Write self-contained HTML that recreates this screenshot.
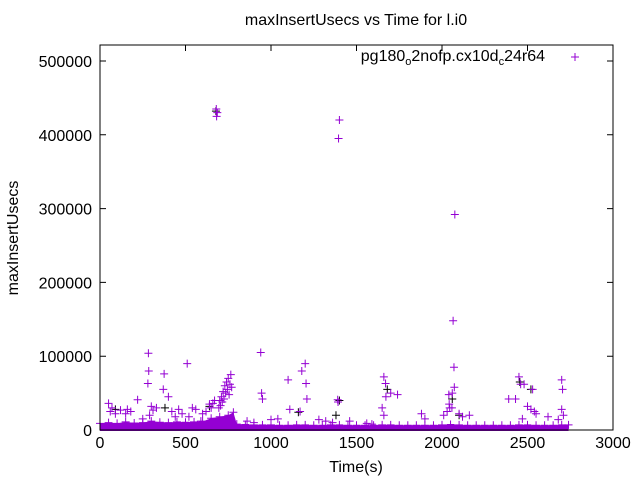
<!DOCTYPE html>
<html><head><meta charset="utf-8"><style>
body{margin:0;background:#fff}
svg{display:block;font-family:"Liberation Sans",sans-serif}
</style></head><body>
<svg id="c" width="640" height="480">
<rect width="640" height="480" fill="#fff"/>
<text x="356" y="25" font-size="16" text-anchor="middle">maxInsertUsecs vs Time for l.i0</text>
<text transform="translate(18,238) rotate(-90)" font-size="16" text-anchor="middle">maxInsertUsecs</text>
<text x="356" y="472" font-size="16" text-anchor="middle">Time(s)</text>
<g id="ticks"></g>
<g id="band"></g>
<g id="pts"></g>
<rect x="100" y="45" width="513" height="385" fill="none" stroke="#000" stroke-width="1"/>
<g>
<text x="545" y="61" font-size="16" text-anchor="end">pg180<tspan font-size="11" dy="4">o</tspan><tspan dy="-4">2nofp.cx10d</tspan><tspan font-size="11" dy="4">c</tspan><tspan dy="-4">24r64</tspan></text>
<path d="M571,57h8M575,53v8" stroke="#9400d3" stroke-width="1"/>
</g>
</svg>
<script>
const xTicks=[0,500,1000,1500,2000,2500,3000];
const yTicks=[0,100000,200000,300000,400000,500000];
const outT=[680,682,686,1400,1395,2075,2065,2070,283,940,510,1200,1180,285,375,1660,2450,2700,1100,280,1205,1670,2460,2480,2072,2705,2530,370,945,1700,1740,2060,2040,400,1672,950,220,1210,1390,1392,2390,2430,2042,2045,50,2058,2500,2540,700,710,720,730,740,745,750,755,760,765,770,735,725,715,705,695,660,670,650,640,620,600,560,540,480,460,440,420,330,300,310,290,180,160,120,90,70,60,1110,1170,1650,1660,1880,1900,2010,2030,2100,2120,2160,2470,2520,2550,2620,2680,2700,2710,1280,1320,1360,1460,1560,1590,590,520,250,150,860,900,1000,1040];
const outV=[435000,425000,430000,420000,395000,292000,148000,85000,104000,105000,90000,90000,80000,80000,76000,72000,72000,68000,68000,63000,63000,63000,62000,62000,58000,55000,55000,55000,50000,50000,48000,50000,48000,45000,45000,42000,41000,42000,41000,38000,42000,42000,35000,30000,36000,30000,32000,25000,40000,45000,52000,60000,65000,55000,70000,48000,62000,75000,58000,50000,42000,38000,33000,30000,36000,40000,30000,35000,25000,22000,28000,30000,22000,28000,18000,25000,30000,32000,27000,20000,25000,28000,27000,22000,30000,25000,28000,25000,30000,20000,22000,15000,20000,25000,22000,18000,20000,15000,28000,22000,18000,14000,28000,20000,14000,12000,10000,12000,9000,8000,12000,18000,15000,22000,12000,10000,14000,15000];
const blkT=[678,1400,2455,2520,1680,380,1160,2060,90,1380,2100,640];
const blkV=[432000,40000,65000,55000,55000,30000,24000,42000,28000,20000,20000,32000];
const bandT=[0,50,100,150,200,250,300,350,400,450,500,550,600,650,700,750,780,800,850,900,950,1000,1050,1100,1150,1200,1250,1300,1350,1400,1450,1500,1550,1600,1650,1700,1750,1800,1850,1900,1950,2000,2050,2100,2150,2200,2250,2300,2350,2400,2450,2500,2550,2600,2650,2700,2740];
const bandV=[9000,10000,9000,11000,9500,10000,12000,10500,10000,11000,10500,11000,11500,16000,18000,20000,24000,8000,7500,7000,7000,7000,6500,6500,7000,7000,6500,6500,7000,7000,6500,6500,6500,6500,7000,7000,6500,6500,6500,6500,6500,7000,7500,7000,6500,6500,6500,6500,6500,6500,7000,7000,6500,6500,6500,7000,7000];
const X=v=>100+v*513/3000, Y=v=>430-v*369/500000;
const NS="http://www.w3.org/2000/svg";
const tk=document.getElementById('ticks'),bd=document.getElementById('band'),pg=document.getElementById('pts');
xTicks.forEach(t=>{
 const g=document.createElementNS(NS,'g');
 
 
 g.innerHTML=`<path d="M${X(t)},430v-6M${X(t)},45v6" stroke="#000"/><text x="${X(t)}" y="448" font-size="16" text-anchor="middle">${t}</text>`;
 tk.appendChild(g);
});
yTicks.forEach(t=>{
 const g=document.createElementNS(NS,'g');
 
 
 g.innerHTML=`<path d="M100,${Y(t)}h6M613,${Y(t)}h-6" stroke="#000"/><text x="92" y="${Y(t)+6}" font-size="16" text-anchor="end">${t}</text>`;
 tk.appendChild(g);
});
let d=`M${X(bandT[0])},431`;
bandT.forEach((t,i)=>{d+=`L${X(t)},${Y(bandV[i])}`;});
d+=`L${X(bandT[bandT.length-1])},431Z`;
const band=document.createElementNS(NS,'path');
band.setAttribute('d',d);band.setAttribute('fill','#9400d3');


bd.appendChild(band);
function plus(t,v,col,name){
 const p=document.createElementNS(NS,'path');
 const x=X(t),y=Y(v);
 p.setAttribute('d',`M${x-4},${y}h8M${x},${y-4}v8`);
 p.setAttribute('stroke',col);p.setAttribute('stroke-width','1');p.setAttribute('fill','none');
 
 
 pg.appendChild(p);
}
blkT.forEach((t,i)=>plus(t,blkV[i],'#000','black-point'));
bandT.forEach((t,i)=>plus(t,bandV[i],'#9400d3','band-point'));
outT.forEach((t,i)=>plus(t,outV[i],'#9400d3','data-point'));
</script>
</body></html>
